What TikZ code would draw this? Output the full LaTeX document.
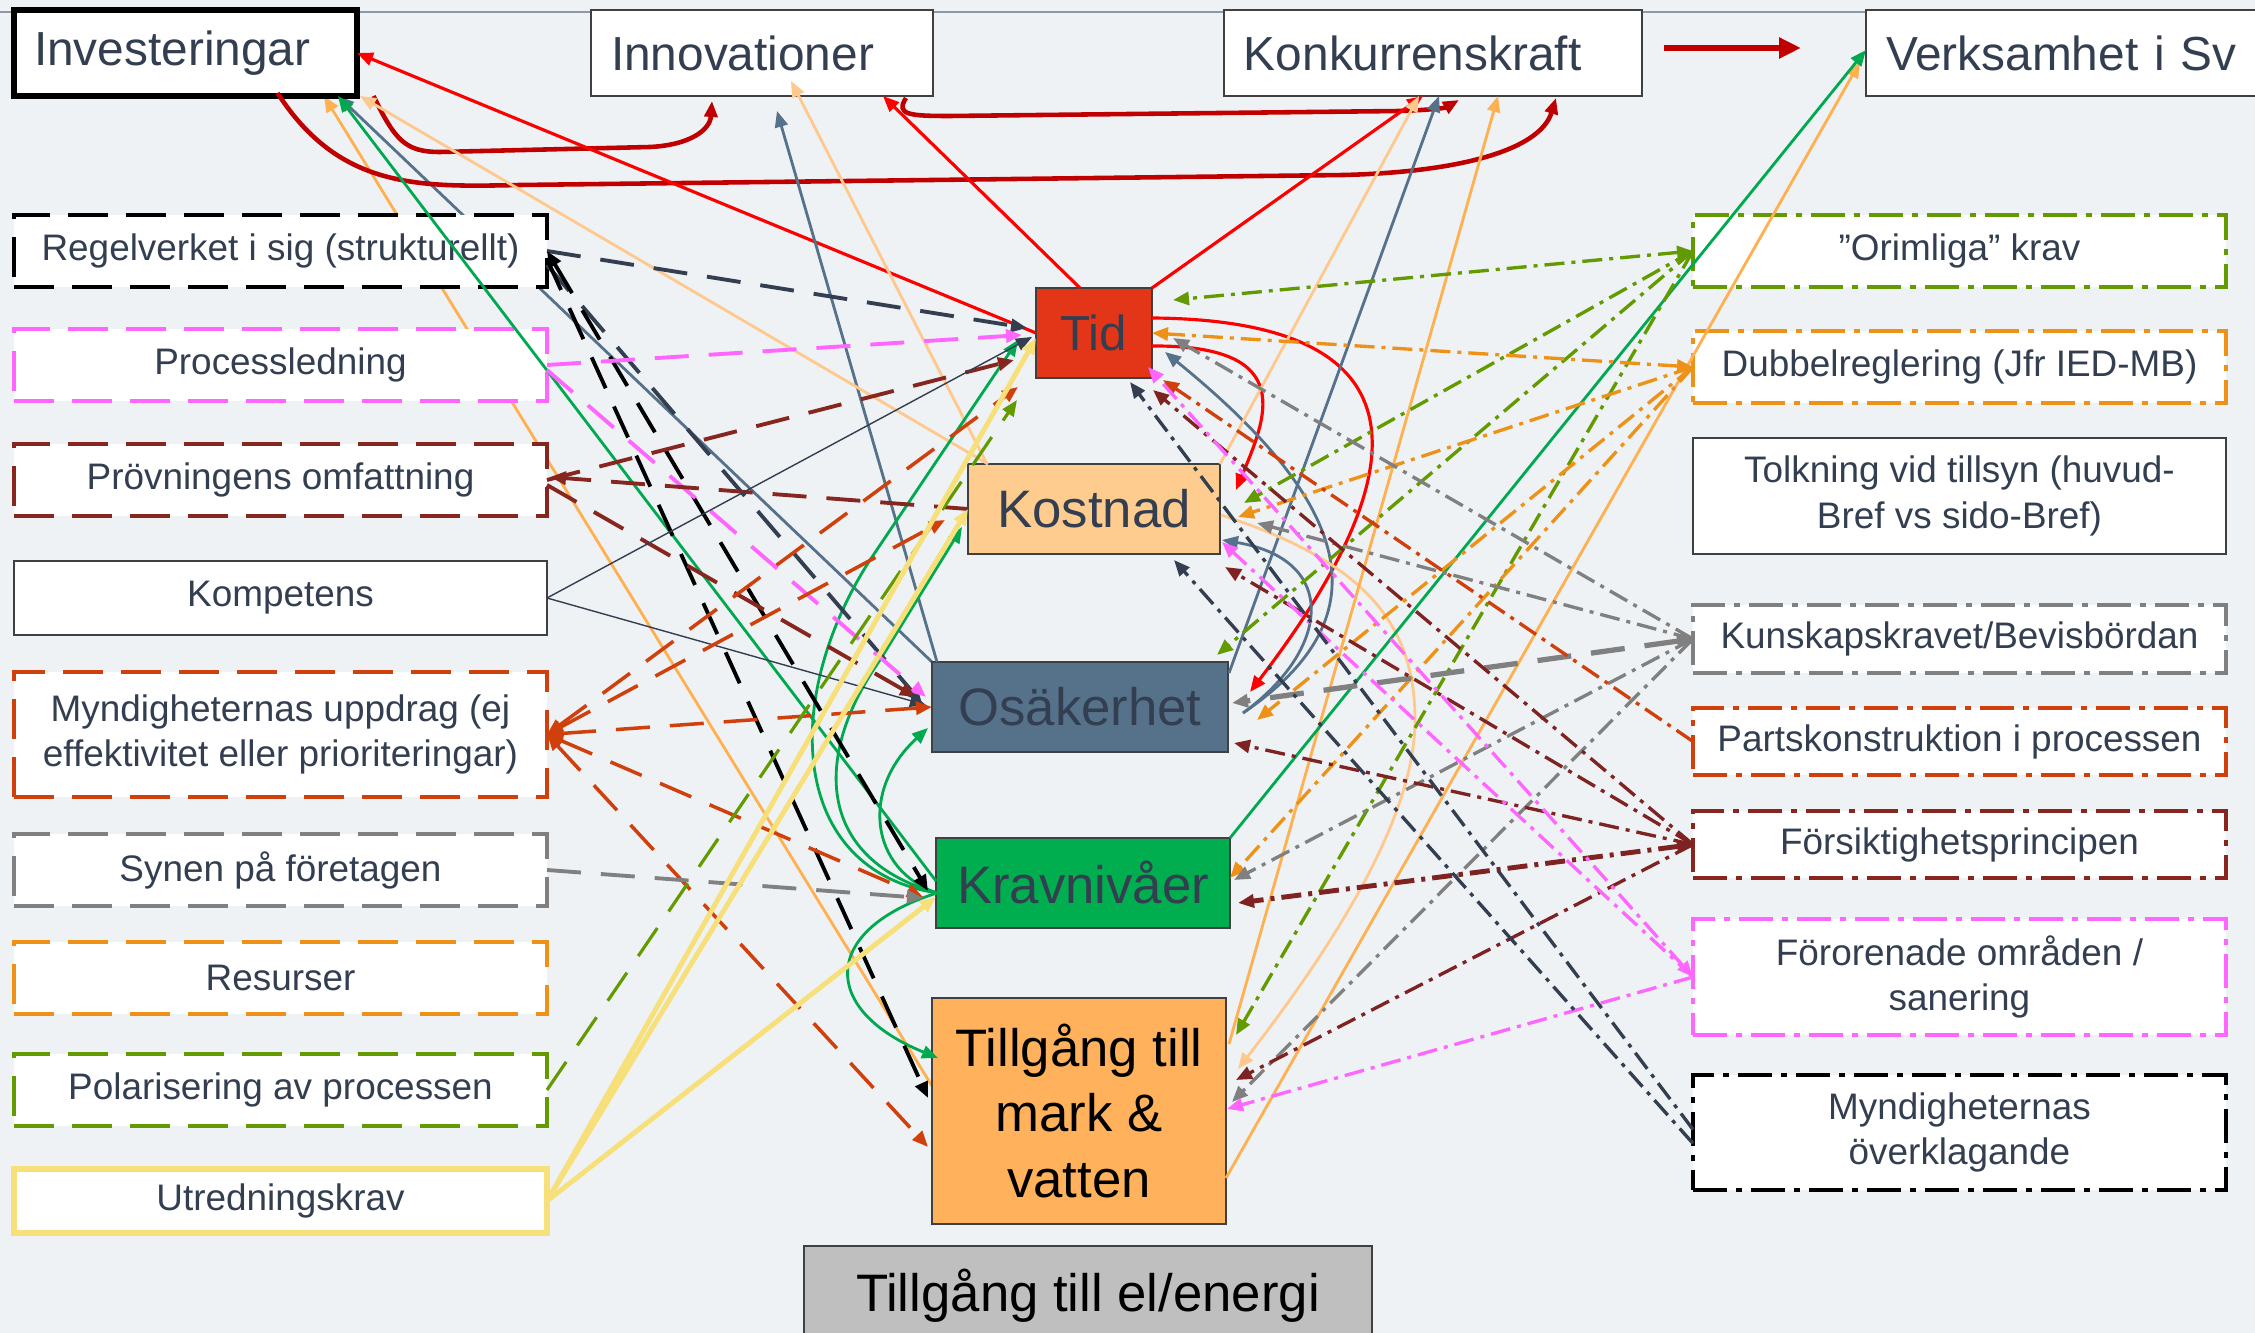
\documentclass[tikz,border=0pt]{standalone}
\usepackage{fontspec}
\setmainfont{Liberation Sans}
\usetikzlibrary{positioning,arrows.meta,calc}

\definecolor{txt}{HTML}{333F50}
\definecolor{bgc}{HTML}{EEF2F5}
\definecolor{topline}{HTML}{8D99A6}
\definecolor{boxline}{HTML}{404040}
\definecolor{tidfill}{HTML}{E33518}
\definecolor{kostfill}{HTML}{FFCC8F}
\definecolor{osakfill}{HTML}{56728A}
\definecolor{kravfill}{HTML}{00AD4F}
\definecolor{markfill}{HTML}{FFB25B}
\definecolor{elfill}{HTML}{BFBFBF}
\definecolor{redl}{HTML}{FF0000}
\definecolor{dred}{HTML}{C00000}
\definecolor{slate}{HTML}{56718A}
\definecolor{peach}{HTML}{FFC98E}
\definecolor{orl}{HTML}{FFB050}
\definecolor{grn}{HTML}{00A850}
\definecolor{yel}{HTML}{F7DF7A}
\definecolor{magl}{HTML}{FF66FF}
\definecolor{brn}{HTML}{86261E}
\definecolor{ored}{HTML}{D0400C}
\definecolor{grayl}{HTML}{808080}
\definecolor{olv}{HTML}{629A00}
\definecolor{amber}{HTML}{EE9217}
\definecolor{ddred}{HTML}{7F2222}
\definecolor{dslate}{HTML}{333F50}

\pgfdeclarelayer{canvas}
\pgfdeclarelayer{behind}
\pgfsetlayers{canvas,behind,main}

\tikzset{
  >={Triangle[length=1.6mm,width=1.3mm]},
  topbox/.style={draw=boxline, line width=0.8pt, fill=white, text=txt, minimum height=8.6mm, inner xsep=2mm, outer sep=0pt, align=left, font=\fontsize{13.6}{16}\selectfont},
  sidebox/.style={draw, fill=white, text=txt, minimum width=53.3mm, minimum height=7.2mm, inner sep=1mm, outer sep=0pt, align=center, font=\fontsize{10.5}{13}\selectfont},
  dashbox/.style={sidebox, line width=1.2pt, dash pattern=on 4mm off 1.8mm},
  dotbox/.style={sidebox, line width=1.2pt, dash pattern=on 3.4mm off 0.9mm on 0.6mm off 0.9mm},
  core/.style={draw=boxline, line width=0.7pt, text=txt, minimum height=9mm, outer sep=0pt, align=center, font=\fontsize{15}{18.5}\selectfont},
  link/.style={->, line width=0.8pt},
  dashlink/.style={->, line width=1.1pt, dash pattern=on 3.4mm off 2mm},
  dotlink/.style={->, line width=0.95pt, dash pattern=on 2mm off 0.7mm on 0.4mm off 0.7mm},
}

\begin{document}
\begin{tikzpicture}[x=0.1mm, y=-0.1mm]
    \useasboundingbox (0,0) rectangle (2255,1333);

    \node(invest) [topbox, draw=black, line width=1.5pt, text width=30.3mm, anchor=north west] at (14,10) {Investeringar};
    \node(innov) [topbox, text width=30.2mm, right=23.4mm of invest] {Innovationer};
    \node(konk) [topbox, text width=37.8mm, right=29.1mm of innov] {Konkurrenskraft};
    \node(verks) [topbox, text width=38mm, right=22.4mm of konk] {Verksamhet i Sv};

    \node(regel) [dashbox, draw=black, anchor=north west] at (14,215) {Regelverket i sig (strukturellt)};
    \node(process) [dashbox, draw=magl, below=4.2mm of regel] {Processledning};
    \node(provn) [dashbox, draw=brn, below=4.3mm of process] {Prövningens omfattning};
    \node(komp) [sidebox, draw=boxline, line width=0.8pt, minimum height=7.4mm, below=4.5mm of provn] {Kompetens};
    \node(mynd) [dashbox, draw=ored, minimum height=12.5mm, below=3.7mm of komp] {Myndigheternas uppdrag (ej\\effektivitet eller prioriteringar)};
    \node(synen) [dashbox, draw=grayl, below=3.7mm of mynd] {Synen på företagen};
    \node(resurs) [dashbox, draw=amber, below=3.6mm of synen] {Resurser};
    \node(polar) [dashbox, draw=olv, below=4mm of resurs] {Polarisering av processen};
    \node(utred) [sidebox, draw=yel, line width=1.6pt, minimum height=6.4mm, below=4.3mm of polar] {Utredningskrav};

    \node(tid) [core, fill=tidfill, minimum width=11.6mm, font=\fontsize{14}{17}\selectfont] at (1094,333) {Tid};
    \node(kostnad) [core, fill=kostfill, minimum width=25.2mm, below=8.6mm of tid] {Kostnad};
    \node(osak) [core, fill=osakfill, minimum width=29.6mm, below=10.8mm of kostnad, xshift=-1.4mm] {Osäkerhet};
    \node(krav) [core, fill=kravfill, minimum width=29.4mm, below=8.6mm of osak, xshift=0.3mm] {Kravnivåer};
    \node(mark) [core, fill=markfill, text=black, minimum width=29.4mm, minimum height=22.6mm, below=7mm of krav, xshift=-0.4mm] {Tillgång till\\mark \&\\vatten};
    \node(el) [core, fill=elfill, text=black, minimum width=56.8mm, minimum height=10mm, below=2.2mm of mark, xshift=0.9mm] {Tillgång till el/energi};

    \node(orim) [dotbox, draw=olv, anchor=north west] at (1693,215) {”Orimliga” krav};
    \node(dubbel) [dotbox, draw=amber, below=4.4mm of orim] {Dubbelreglering (Jfr IED-MB)};
    \node(tolk) [sidebox, draw=boxline, line width=0.8pt, minimum height=11.6mm, below=3.5mm of dubbel] {Tolkning vid tillsyn (huvud-\\Bref vs sido-Bref)};
    \node(kunskap) [dotbox, draw=grayl, minimum height=6.8mm, below=5.1mm of tolk] {Kunskapskravet/Bevisbördan};
    \node(parts) [dotbox, draw=ored, minimum height=6.7mm, below=3.5mm of kunskap] {Partskonstruktion i processen};
    \node(forsikt) [dotbox, draw=brn, minimum height=6.7mm, below=3.6mm of parts] {Försiktighetsprincipen};
    \node(fororen) [dotbox, draw=magl, minimum height=11.6mm, below=4.1mm of forsikt] {Förorenade områden /\\sanering};
    \node(overkl) [dotbox, draw=black, minimum height=11.5mm, below=4mm of fororen] {Myndigheternas\\överklagande};

    \begin{pgfonlayer}{canvas}
      \fill [bgc] (0,0) rectangle (2255,1333);
      \draw [topline, line width=0.8pt] (0,12) to (2255,12);
    \end{pgfonlayer}
    \begin{pgfonlayer}{behind}
      \draw [link][draw=slate] (osak.north west) to ($(invest.south east)+(-19,0)$);
      \draw [link][draw=orl] ($(mark.north west)+(0,88)$) to ($(invest.south east)+(-33,0)$);
    \end{pgfonlayer}

    % top row
    \draw [link][draw=dred, line width=1.3pt] ($(invest.south)+(92,-3)$) .. controls (340,190) and (420,187) .. (520,185) -- (1344,175) .. controls (1460,172) and (1540,150) .. ($(konk.south east)+(-86,2)$);
    \draw [link][draw=dred, line width=1.3pt] ($(invest.south)+(188,0)$) .. controls (395,140) and (405,152) .. (440,152) -- (650,147) .. controls (690,145) and (710,130) .. ($(innov.south east)+(-221,5)$);
    \draw [link][draw=dred, line width=1.3pt] ($(innov.south east)+(-27,2)$) .. controls (895,115) and (910,116) .. (950,116) -- (1400,111) .. controls (1430,110) and (1445,108) .. ($(konk.south)+(26,4)$);
    \draw [->, >={Triangle[length=2.2mm,width=2mm]}][draw=dred, line width=1.6pt] ($(konk.east)+(22,-5)$) to ($(verks.west)+(-65,-5)$);

    % Tid
    \draw [link][draw=redl, line width=0.9pt] (tid.west) to (invest.east);
    \draw [link][draw=redl, line width=0.9pt] ($(tid.north)+(-14,0)$) to ($(innov.south east)+(-50,0)$);
    \draw [link][draw=redl, line width=0.9pt] (tid.north east) to ($(konk.south)+(-10,0)$);
    \draw [link][draw=redl, line width=0.9pt] ($(tid.east)+(0,-15)$) .. controls (1430,320) and (1420,470) .. ($(osak.north east)+(22,30)$);
    \draw [link][draw=redl, line width=0.9pt] ($(tid.east)+(0,13)$) .. controls (1300,345) and (1265,420) .. ($(kostnad.north east)+(16,26)$);

    % Osäkerhet
    \draw [link][draw=slate] ($(osak.north west)+(5,0)$) to ($(innov.south)+(15,15)$);
    \draw [link][draw=slate] ($(osak.north east)+(1,11)$) to ($(konk.south)+(6,0)$);
    \draw [link][draw=slate] ($(osak.east)+(15,6)$) .. controls (1380,620) and (1360,510) .. ($(tid.east)+(13,19)$);
    \draw [link][draw=slate] ($(osak.east)+(15,6)$) .. controls (1330,650) and (1340,560) .. ($(kostnad.east)+(2,31)$);

    % Kostnad
    \draw [link][draw=peach] ($(kostnad.north west)+(20,0)$) to ($(invest.south east)+(3,0)$);
    \draw [link][draw=peach] ($(kostnad.north)+(-107,0)$) to ($(innov.south)+(29,-15)$);
    \draw [link][draw=peach] (kostnad.north east) to ($(konk.south)+(-14,0)$);
    \draw [link][draw=peach] ($(kostnad.east)+(1,6)$) .. controls (1360,560) and (1415,620) .. (1415,720) .. controls (1415,820) and (1330,950) .. ($(mark.north east)+(12,71)$);

    % Tillgång till mark & vatten
    \draw [link][draw=orl] ($(mark.north east)+(3,46)$) to ($(konk.south)+(65,0)$);
    \draw [link][draw=orl] ($(mark.north east)+(0,180)$) to ($(verks.west)+(-6,9)$);

    % Kravnivåer
    \draw [link][draw=grn] (krav.north east) to ($(verks.west)+(0,-3)$);
    \draw [link][draw=grn] ($(krav.west)+(0,-2)$) to ($(invest.south east)+(-19,0)$);
    \draw [link][draw=grn] ($(krav.west)+(1,10)$) .. controls (790,870) and (780,700) .. (870,560) -- ($(tid.west)+(-18,7)$);
    \draw [link][draw=grn] ($(krav.west)+(1,10)$) .. controls (820,860) and (810,760) .. (880,660) -- ($(kostnad.south west)+(-6,-27)$);
    \draw [link][draw=grn] ($(krav.west)+(1,10)$) .. controls (870,870) and (860,790) .. ($(osak.west)+(-4,21)$);
    \draw [link][draw=grn] ($(krav.west)+(1,10)$) .. controls (820,930) and (820,1010) .. ($(mark.north west)+(6,60)$);

    % left column
    \draw [dashlink][draw=dslate] (regel.east) to ($(tid.west)+(-9,-5)$);
    \draw [dashlink][draw=dslate] ($(regel.east)+(0,14)$) to ($(osak.west)+(-10,-4)$);
    \draw [dashlink, <->][draw=black] (regel.east) to ($(krav.west)+(-8,8)$);
    \draw [dashlink][draw=black] ($(regel.east)+(0,8)$) to ($(mark.north west)+(-4,100)$);
    \draw [dashlink][draw=magl] (process.east) to ($(tid.west)+(-14,2)$);
    \draw [dashlink][draw=magl] ($(process.east)+(0,5)$) to ($(osak.west)+(-6,-10)$);
    \draw [dashlink][draw=brn] (provn.east) to ($(tid.west)+(-22,27)$);
    \draw [dashlink][draw=brn] (kostnad.west) to ($(provn.east)+(3,-3)$);
    \draw [dashlink][draw=brn] ($(provn.east)+(0,5)$) to ($(osak.west)+(-16,-10)$);
    \draw [link][draw=dslate, line width=0.4pt] (komp.east) to ($(tid.west)+(-4,4)$);
    \draw [link][draw=dslate, line width=0.4pt] (komp.east) to ($(osak.west)+(-6,-2)$);
    \draw [dashlink, <->][draw=ored, line width=1pt] (mynd.east) to ($(tid.south west)+(-18,9)$);
    \draw [dashlink, <->][draw=ored, line width=1pt] (mynd.east) to ($(kostnad.west)+(-23,11)$);
    \draw [dashlink, <->][draw=ored, line width=1pt] (mynd.east) to (osak.west);
    \draw [dashlink, <->][draw=ored, line width=1pt] (mynd.east) to ($(krav.west)+(-13,14)$);
    \draw [dashlink, <->][draw=ored, line width=1pt] (mynd.east) to ($(mark.north west)+(-4,149)$);
    \draw [dashlink][draw=grayl] (synen.east) to ($(krav.west)+(-13,15)$);
    \draw [dashlink][draw=olv, line width=0.9pt] (polar.east) to ($(tid.south west)+(-19,22)$);
    \draw [link][draw=yel, line width=1.4pt] (utred.east) to ($(tid.west)+(0,5)$);
    \draw [link][draw=yel, line width=1.4pt] (utred.east) to (kostnad.west);
    \draw [link][draw=yel, line width=1.4pt] (utred.east) to ($(krav.west)+(0,14)$);

    % right column
    \draw [dotlink, <->][draw=olv] (orim.west) to ($(tid.east)+(21,-33)$);
    \draw [dotlink][draw=olv] (orim.west) to ($(kostnad.east)+(24,-6)$);
    \draw [dotlink][draw=olv] (orim.west) to ($(osak.north east)+(-11,-7)$);
    \draw [dotlink][draw=olv] (orim.west) to ($(mark.north east)+(10,37)$);
    \draw [dotlink, <->][draw=amber] (dubbel.west) to (tid.east);
    \draw [dotlink][draw=amber] (dubbel.west) to ($(kostnad.east)+(18,8)$);
    \draw [dotlink][draw=amber] (dubbel.west) to ($(osak.east)+(29,13)$);
    \draw [dotlink][draw=amber] (dubbel.west) to ($(krav.east)+(0,-5)$);
    \draw [dotlink][draw=grayl] (kunskap.west) to ($(tid.east)+(21,5)$);
    \draw [dotlink][draw=grayl] (kunskap.west) to ($(kostnad.east)+(37,14)$);
    \draw [dotlink][draw=grayl] (kunskap.west) to ($(krav.east)+(4,-3)$);
    \draw [dotlink][draw=grayl] (kunskap.west) to ($(mark.north east)+(6,104)$);
    \draw [dashlink, <->][draw=grayl, line width=1.5pt] (kunskap.west) to ($(osak.east)+(4,-4)$);
    \draw [dotlink][draw=ored] (parts.west) to ($(tid.south east)+(11,2)$);
    \draw [dotlink][draw=ddred] (forsikt.west) to ($(tid.south east)+(1,12)$);
    \draw [dotlink][draw=ddred] (forsikt.west) to ($(kostnad.south east)+(5,13)$);
    \draw [dotlink][draw=ddred] (forsikt.west) to ($(osak.east)+(6,36)$);
    \draw [dotlink, <->][draw=ddred, line width=1.4pt] (forsikt.west) to ($(krav.east)+(8,20)$);
    \draw [dotlink][draw=ddred] (forsikt.west) to ($(mark.north east)+(10,82)$);
    \draw [dotlink, <->][draw=magl] (fororen.west) to ($(tid.south east)+(-4,-11)$);
    \draw [dotlink][draw=magl] (fororen.west) to ($(kostnad.east)+(2,33)$);
    \draw [dotlink][draw=magl] (fororen.west) to ($(mark.north east)+(1,111)$);
    \draw [dotlink][draw=dslate] ($(overkl.west)+(0,-3)$) to ($(tid.south)+(36,4)$);
    \draw [dotlink][draw=dslate] ($(overkl.west)+(0,11)$) to ($(kostnad.south)+(80,6)$);

\end{tikzpicture}
\end{document}
